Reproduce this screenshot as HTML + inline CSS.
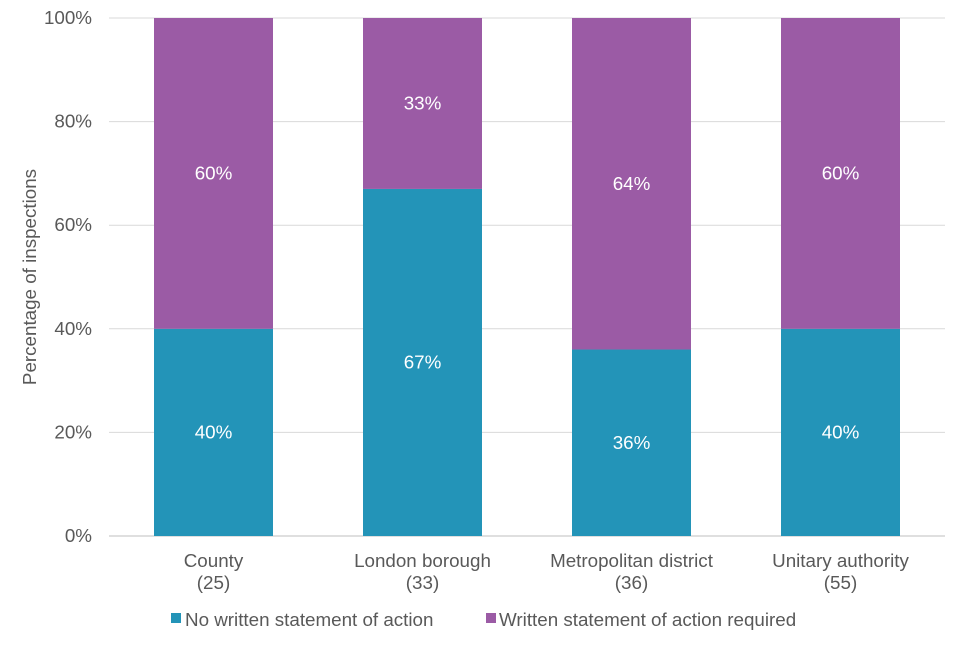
<!DOCTYPE html>
<html><head><meta charset="utf-8"><style>
body{margin:0;background:#fff;}
svg text{font-family:"Liberation Sans",sans-serif;font-size:18.8px;fill:#595959;}
</style></head><body>
<svg id="chart" width="960" height="640">
<g id="grid"></g><g id="bars"></g><g id="labels"></g>
<text transform="translate(36,277) rotate(-90)" text-anchor="middle">Percentage of inspections</text>
<g>
<rect x="171" y="613" width="10" height="10" fill="#2394b8"/>
<text x="185" y="626">No written statement of action</text>
<rect x="486" y="613" width="10" height="10" fill="#9b5ba5"/>
<text x="499" y="626">Written statement of action required</text>
</g>
</svg>
<script>
const categories=["County","London borough","Metropolitan district","Unitary authority"];
const counts=["(25)","(33)","(36)","(55)"];
const noStatement=[40,67,36,40];
const required=[60,33,64,60];
const yTicks=[0,20,40,60,80,100];
const NS="http://www.w3.org/2000/svg";
const L=109,R=945,T=18,B=536;
const y=v=>B-(B-T)*v/100;
const band=(R-L)/categories.length;
const cx=i=>L+band*(i+0.5);
const bw=119;
function mk(tag,attrs,parent,txt){const e=document.createElementNS(NS,tag);for(const k in attrs)e.setAttribute(k,attrs[k]);if(txt!==undefined)e.textContent=txt;parent.appendChild(e);return e;}
const grid=document.getElementById('grid'),bars=document.getElementById('bars'),labels=document.getElementById('labels');
yTicks.forEach(t=>{
 const l=mk('line',{x1:L,x2:R,y1:y(t),y2:y(t),stroke:t===0?'#bfbfbf':'#d9d9d9','stroke-width':1},grid);
 
 
 const tx=mk('text',{x:92,y:y(t)+6,'text-anchor':'end'},grid,t+'%');
 
 
});
categories.forEach((c,i)=>{
 const a=noStatement[i],b=required[i];
 const r1=mk('rect',{x:cx(i)-bw/2,y:y(a),width:bw,height:y(0)-y(a),fill:'#2394b8'},bars);
 
 
 const r2=mk('rect',{x:cx(i)-bw/2,y:y(a+b),width:bw,height:y(a)-y(a+b),fill:'#9b5ba5'},bars);
 
 
 const t1=mk('text',{x:cx(i),y:(y(0)+y(a))/2+6,'text-anchor':'middle',style:'fill:#fff'},labels,a+'%');
 
 
 const t2=mk('text',{x:cx(i),y:(y(a)+y(a+b))/2+6,'text-anchor':'middle',style:'fill:#fff'},labels,b+'%');
 
 
 const c1=mk('text',{x:cx(i),y:567,'text-anchor':'middle'},labels,c);
 
 
 const c2=mk('text',{x:cx(i),y:589,'text-anchor':'middle'},labels,counts[i]);
 
 
});
</script>
</body></html>
